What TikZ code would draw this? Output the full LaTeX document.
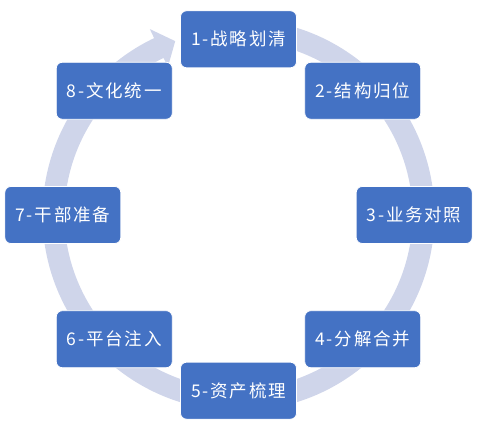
\documentclass[tikz,border=0pt]{standalone}
\usepackage{fontspec}
\newfontfamily\cjk[LetterSpace=10]{Noto Sans CJK SC}
\definecolor{boxblue}{HTML}{4472C4}
\definecolor{ringcol}{HTML}{CFD5EA}
\tikzset{
  stepbox/.style={draw=white, line width=0.8pt, fill=boxblue, rounded corners=6pt,
    minimum width=116pt, minimum height=57pt, inner sep=0pt, text=white,
    font=\cjk\fontsize{17.5}{20}\selectfont},
}
\begin{document}
\begin{tikzpicture}[x=1pt,y=1pt]
\useasboundingbox (0,0) rectangle (477,427);
\begin{scope}[shift={(238.5,212)}]
  \fill[ringcol] (92:196) arc[start angle=92, end angle=-244.5, radius=196]
    -- (-244.5:206) -- (-250:185) -- (-244.5:164) -- (-244.5:174)
    arc[start angle=-244.5, end angle=92, radius=174] -- cycle;
  \node[stepbox] (n1) at (90:175.7) {1-战略划清};
  \node[stepbox] (n2) at (45:175.7) {2-结构归位};
  \node[stepbox] (n3) at (0:175.7) {3-业务对照};
  \node[stepbox] (n4) at (-45:175.7) {4-分解合并};
  \node[stepbox] (n5) at (-90:175.7) {5-资产梳理};
  \node[stepbox] (n6) at (-135:175.7) {6-平台注入};
  \node[stepbox] (n7) at (180:175.7) {7-干部准备};
  \node[stepbox] (n8) at (135:175.7) {8-文化统一};
\end{scope}
\end{tikzpicture}
\end{document}
